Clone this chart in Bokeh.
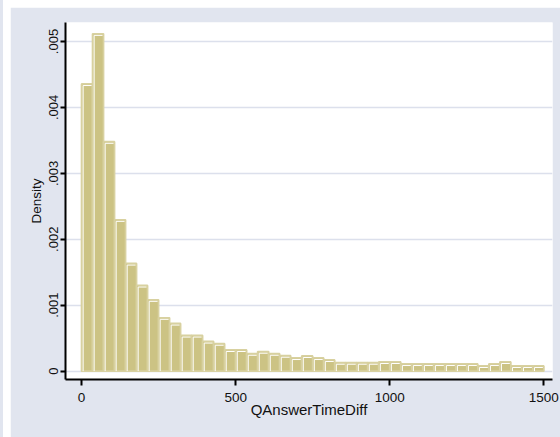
import numpy as np
from bokeh.plotting import figure
from bokeh.models import Range1d, FixedTicker, Div, Spacer
from bokeh.layouts import row, column
from bokeh.embed import file_html
from bokeh.resources import INLINE

# ---- data ----
bin_start = 0.0
bin_width = 1500.0 / 42
density = [0.004356, 0.005117, 0.003480, 0.002296, 0.001633, 0.001300, 0.001083, 0.000810, 0.000723, 0.000541,
           0.000541, 0.000450, 0.000417, 0.000322, 0.000322, 0.000265, 0.000296, 0.000265, 0.000235, 0.000200,
           0.000231, 0.000200, 0.000170, 0.000129, 0.000129, 0.000129, 0.000129, 0.000140, 0.000140, 0.000109,
           0.000109, 0.000109, 0.000109, 0.000109, 0.000109, 0.000109, 0.000079, 0.000109, 0.000140, 0.000079,
           0.000079, 0.000079]
x_ticks = [0, 500, 1000, 1500]
x_tick_labels = ["0", "500", "1000", "1500"]
y_ticks = [0, 0.001, 0.002, 0.003, 0.004, 0.005]
y_tick_labels = ["0", ".001", ".002", ".003", ".004", ".005"]
x_title = "QAnswerTimeDiff"
y_title = "Density"

# ---- style ----
BG = "#E1E5EF"
GRID = "#DCE0EC"
FILL = "#CCC384"
EDGE = "#D8D1A0"
FONT = "Liberation Sans"

n = len(density)
left = np.array([bin_start + i * bin_width for i in range(n)])
right = left + bin_width
top = np.array(density)

x0, x1 = -52.0, 1528.0
y0, y1 = -0.000127, 0.005288
FW, FH = 487, 357

p = figure(width=550, height=430, x_range=Range1d(x0, x1), y_range=Range1d(y0, y1),
           output_backend="svg", toolbar_location=None,
           min_border_left=55, min_border_right=8, min_border_top=15, min_border_bottom=58)
p.background_fill_color = "white"
p.border_fill_color = BG
p.outline_line_color = None

p.xgrid.visible = False
p.ygrid.grid_line_color = GRID
p.ygrid.grid_line_width = 1.7
p.ygrid.ticker = FixedTicker(ticks=y_ticks)

p.quad(left=left, right=right, bottom=0, top=top, fill_color=FILL,
       line_color=EDGE, line_width=1.7)

# thin white inner highlight along the left and top of each bar
ux = (x1 - x0) / FW
uy = (y1 - y0) / FH
xs = [[l + 1.6 * ux, l + 1.6 * ux, r - 1.0 * ux] for l, r in zip(left, right)]
ys = [[0, t - 1.6 * uy, t - 1.6 * uy] for t in top]
p.multi_line(xs=xs, ys=ys, line_color="white", line_width=1)

p.xaxis.ticker = FixedTicker(ticks=x_ticks)
p.xaxis.major_label_overrides = {t: s for t, s in zip(x_ticks, x_tick_labels)}
p.yaxis.ticker = FixedTicker(ticks=y_ticks)
p.yaxis.major_label_overrides = {t: s for t, s in zip(y_ticks, y_tick_labels)}

for ax in (p.xaxis[0], p.yaxis[0]):
    ax.axis_line_color = "black"
    ax.axis_line_width = 2
    ax.major_tick_line_color = "black"
    ax.major_tick_line_width = 2
    ax.major_tick_in = 0
    ax.minor_tick_line_color = None
    ax.major_label_text_font = FONT
    ax.major_label_text_color = "#111111"
    ax.axis_label_text_font = FONT
    ax.axis_label_text_font_style = "normal"
    ax.axis_label_text_color = "#111111"

p.xaxis.major_tick_out = 6
p.xaxis.major_label_text_font_size = "13.5px"
p.xaxis.major_label_standoff = 7
p.xaxis.axis_label = x_title
p.xaxis.axis_label_text_font_size = "15px"
p.xaxis.axis_label_standoff = -4

p.yaxis.major_tick_out = 5
p.yaxis.major_label_orientation = "vertical"
p.yaxis.major_label_text_font_size = "13px"
p.yaxis.major_label_standoff = 2
p.yaxis.axis_label = y_title
p.yaxis.axis_label_text_font_size = "13.5px"
p.yaxis.axis_label_standoff = 3

strip = Div(text="", width=3, height=437, margin=0, styles={"background-color": BG})
gap = Spacer(width=7, height=437, margin=0)
topgap = Spacer(width=550, height=7, margin=0)
layout = row(strip, gap, column(topgap, p, spacing=0, margin=0), spacing=0, margin=0)

open("out.html", "w").write(file_html(layout, INLINE))
